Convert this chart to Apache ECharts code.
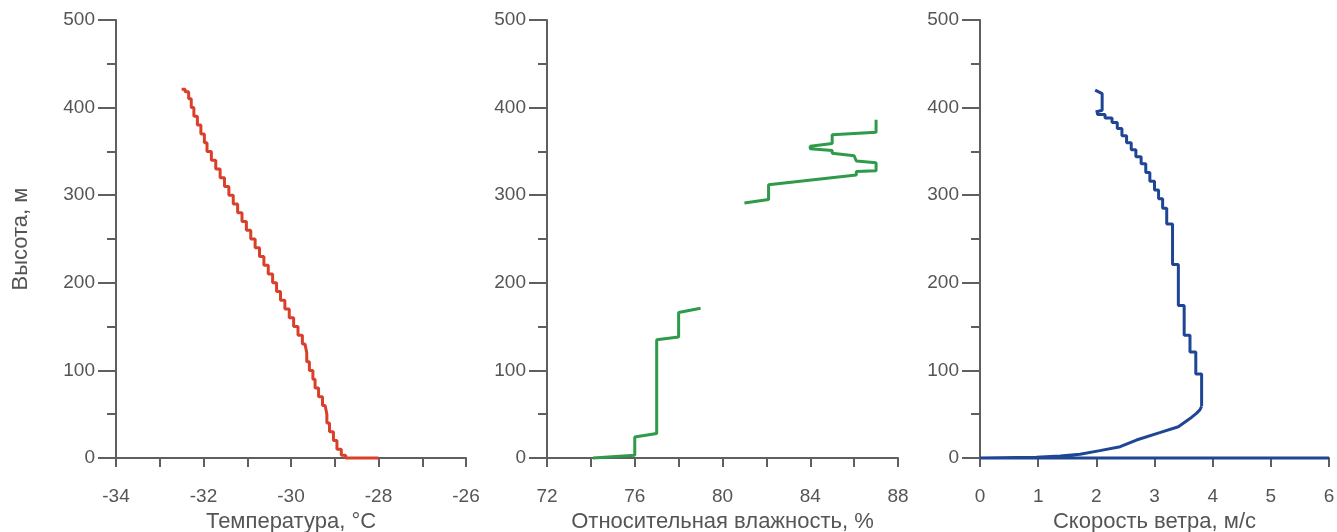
<!DOCTYPE html>
<html>
<head>
<meta charset="utf-8">
<script src="https://cdn.jsdelivr.net/npm/echarts@6/dist/echarts.min.js"></script>
<style>
html,body{margin:0;padding:0;background:#fff;}
#chart{width:1337px;height:532px;}
</style>
</head>
<body>
<div id="chart"></div>
<script>
// ---------- DATA ----------
// Temperature profile (°C) vs height (m), staircase (value holds from this height up)
const tempHeights = [0,0,3,10,20,30,40,50,60,70,80,90,100,110,120,130,140,150,160,170,180,190,200,210,220,230,240,250,260,270,280,290,300,310,320,330,340,350,360,370,380,390,400,410,418,421];
const tempValues  = [-28.0,-28.75,-28.85,-28.95,-29.03,-29.12,-29.18,-29.22,-29.28,-29.37,-29.45,-29.5,-29.58,-29.64,-29.68,-29.74,-29.84,-29.94,-30.04,-30.14,-30.24,-30.33,-30.42,-30.52,-30.62,-30.72,-30.82,-30.92,-31.02,-31.12,-31.22,-31.32,-31.42,-31.52,-31.62,-31.72,-31.82,-31.92,-31.98,-32.06,-32.14,-32.22,-32.28,-32.34,-32.42,-32.5];

// Relative humidity (%) vs height (m): lower and upper segments (gap between)
const humLowHeights = [0,3,24,28,135,138,166,171];
const humLowValues  = [74.1,76.0,76.0,77.0,77.0,78.0,78.0,79.0];
const humUpHeights  = [291,295,312,323,327,328,337,339,345,348,351,353,356,359,369,372,386];
const humUpValues   = [81.0,82.1,82.1,86.1,86.1,87.0,87.0,86.1,86.0,85.0,85.0,84.0,84.0,85.0,85.0,87.0,87.0];

// Wind speed (m/s) vs height (m)
const windLowHeights = [0,0,0.8,2.3,4.2,8.4,12.9,20.5,28.9,35.7,45,51,55,59];
const windLowValues  = [6,0,0.97,1.38,1.72,2.06,2.41,2.69,3.09,3.41,3.61,3.72,3.78,3.81];
const windStepHeights = [59,96,121,140,174,221,267,285,296,306,316,326,336,344,352,360,368,376,383,388,392,395];
const windStepValues  = [3.81,3.71,3.61,3.51,3.41,3.31,3.21,3.14,3.07,3.0,2.92,2.85,2.77,2.68,2.6,2.52,2.44,2.36,2.27,2.15,2.02,1.99];
const windTopHeights = [395,397,416,420];
const windTopValues  = [1.99,2.1,2.1,1.98];

const axisNames = ['Температура, °C','Относительная влажность, %','Скорость ветра, м/с'];
const yName = 'Высота, м';

// ---------- BUILD ----------
const pairs = (xs, ys) => xs.map((x, i) => [x, ys[i]]);
const AX = '#5f5f5f', TXT = '#555555';
const FONT = 'Liberation Sans, Arial, sans-serif';

const grids = [
  {left:116, top:20, width:350, height:438, containLabel:false, outerBoundsMode:'none'},
  {left:547, top:20, width:351, height:438, containLabel:false, outerBoundsMode:'none'},
  {left:980, top:20, width:349, height:438, containLabel:false, outerBoundsMode:'none'}
];

function yAxis(i){
  return {
    type:'value', gridIndex:i, min:0, max:500, interval:100,
    name: i===0 ? yName : '', nameLocation:'middle', nameGap:84,
    nameTextStyle:{color:TXT, fontSize:22, fontFamily:FONT},
    axisLine:{show:true, lineStyle:{color:AX, width:2}},
    axisTick:{show:true, length:18, lineStyle:{color:AX, width:2}},
    minorTick:{show:true, splitNumber:2, length:9, lineStyle:{color:AX, width:2}},
    splitLine:{show:false},
    axisLabel:{color:TXT, fontSize:19, margin:21, fontFamily:FONT}
  };
}
function xAxis(i, min, max, interval, minor){
  return {
    type:'value', gridIndex:i, min:min, max:max, interval:interval,
    name: axisNames[i], nameLocation:'middle', nameGap:50,
    nameTextStyle:{color:TXT, fontSize:22, fontFamily:FONT},
    axisLine:{show:true, onZero:false, lineStyle:{color:AX, width:2}},
    axisTick:{show:true, length:9, lineStyle:{color:AX, width:2}},
    minorTick:{show:minor, splitNumber:2, length:9, lineStyle:{color:AX, width:2}},
    splitLine:{show:false}, minorSplitLine:{show:false},
    axisLabel:{color:TXT, fontSize:19, margin:29, fontFamily:FONT}
  };
}

const lineBase = {type:'line', showSymbol:false, symbol:'none', clip:false, animation:false};

const option = {
  backgroundColor:'#ffffff',
  animation:false,
  grid: grids,
  xAxis: [xAxis(0,-34,-26,2,true), xAxis(1,72,88,4,true), xAxis(2,0,6,1,false)],
  yAxis: [yAxis(0), yAxis(1), yAxis(2)],
  series: [
    Object.assign({}, lineBase, {name:'temp', xAxisIndex:0, yAxisIndex:0, step:'start',
      data: pairs(tempValues, tempHeights), lineStyle:{color:'#d8402c', width:3}}),
    Object.assign({}, lineBase, {name:'hum', xAxisIndex:1, yAxisIndex:1, connectNulls:false,
      data: pairs(humLowValues, humLowHeights).concat([[null,null]], pairs(humUpValues, humUpHeights)),
      lineStyle:{color:'#2e9b4a', width:3}}),
    Object.assign({}, lineBase, {name:'windLow', xAxisIndex:2, yAxisIndex:2,
      data: pairs(windLowValues, windLowHeights), lineStyle:{color:'#1f4595', width:3}}),
    Object.assign({}, lineBase, {name:'windStep', xAxisIndex:2, yAxisIndex:2, step:'start',
      data: pairs(windStepValues, windStepHeights), lineStyle:{color:'#1f4595', width:3}}),
    Object.assign({}, lineBase, {name:'windTop', xAxisIndex:2, yAxisIndex:2,
      data: pairs(windTopValues, windTopHeights), lineStyle:{color:'#1f4595', width:3}})
  ]
};

const chart = echarts.init(document.getElementById('chart'), null, {renderer:'canvas'});
chart.setOption(option);
</script>
</body>
</html>
